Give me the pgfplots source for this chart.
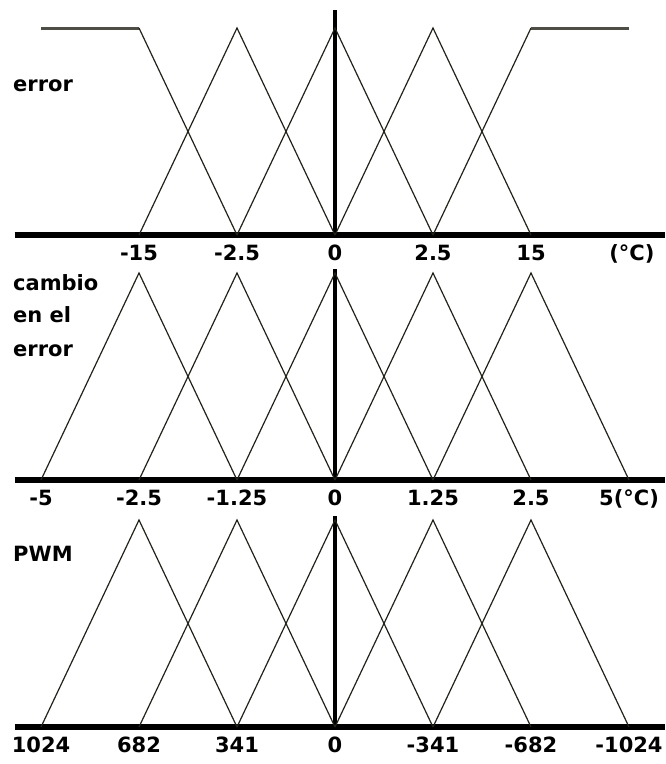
\documentclass[border=0pt]{standalone}
\usepackage{fontspec}
\setmainfont{DejaVu Sans}
\usepackage{pgfplots}
\pgfplotsset{compat=1.18}

\definecolor{mfline}{HTML}{22221A}
\definecolor{shoulder}{HTML}{4E4E46}

\newcommand{\lblfont}{\fontsize{21}{25}\selectfont\bfseries}

% membership-function panels: equally spaced linguistic terms at -3..3
\pgfplotsset{
  fuzzy/.style={
    scale only axis, x=98pt, y=207pt,
    xmin=-3.27, xmax=3.37, ymin=0,
    axis x line=bottom, axis y line=center,
    axis line style={-, black},
    x axis line style={line width=6pt},
    y axis line style={line width=4pt},
    hide obscured x ticks=false,
    ytick=\empty,
    major tick length=0pt,
    xticklabel style={font=\lblfont, anchor=base, inner sep=0pt, yshift=-25pt},
    clip=false,
  },
  tri/.style={color=mfline, line width=1.2pt, solid, mark=none},
  flat/.style={color=shoulder, line width=3pt, solid, mark=none},
}

\begin{document}
\begin{tikzpicture}
\path[use as bounding box] (0,0) rectangle (665pt,-764pt);

% ---------------- error ----------------
\begin{axis}[fuzzy, at={(14.54pt,-235pt)}, anchor=south west, ymax=1.087,
  xtick={-2,-1,0,1,2,3.03},
  xticklabels={-15,-2.5,0,2.5,15,(°C)}]
  \addplot[flat] coordinates {(-3,1) (-2,1)};
  \addplot[tri] coordinates {(-2,1) (-1,0)};
  \addplot[tri] coordinates {(-2,0) (-1,1) (0,0)};
  \addplot[tri] coordinates {(-1,0) (0,1) (1,0)};
  \addplot[tri] coordinates {(0,0) (1,1) (2,0)};
  \addplot[tri] coordinates {(1,0) (2,1)};
  \addplot[flat] coordinates {(2,1) (3,1)};
\end{axis}

% ------------- cambio en el error -------------
\begin{axis}[fuzzy, at={(14.54pt,-480pt)}, anchor=south west, ymax=1.02,
  xtick={-3,-2,-1,0,1,2,3},
  xticklabels={-5,-2.5,-1.25,0,1.25,2.5,5(°C)}]
  \addplot[tri] coordinates {(-3,0) (-2,1) (-1,0)};
  \addplot[tri] coordinates {(-2,0) (-1,1) (0,0)};
  \addplot[tri] coordinates {(-1,0) (0,1) (1,0)};
  \addplot[tri] coordinates {(0,0) (1,1) (2,0)};
  \addplot[tri] coordinates {(1,0) (2,1) (3,0)};
\end{axis}

% ---------------- PWM ----------------
\begin{axis}[fuzzy, at={(14.54pt,-727pt)}, anchor=south west, ymax=1.02,
  xtick={-3,-2,-1,0,1,2,3},
  xticklabels={1024,682,341,0,-341,-682,-1024}]
  \addplot[tri] coordinates {(-3,0) (-2,1) (-1,0)};
  \addplot[tri] coordinates {(-2,0) (-1,1) (0,0)};
  \addplot[tri] coordinates {(-1,0) (0,1) (1,0)};
  \addplot[tri] coordinates {(0,0) (1,1) (2,0)};
  \addplot[tri] coordinates {(1,0) (2,1) (3,0)};
\end{axis}

% variable names
\node[anchor=base west, inner sep=0pt, font=\lblfont] at (13pt,-91pt) {error};
\node[anchor=base west, inner sep=0pt, font=\lblfont] at (13pt,-290pt) {cambio};
\node[anchor=base west, inner sep=0pt, font=\lblfont] at (13pt,-322pt) {en el};
\node[anchor=base west, inner sep=0pt, font=\lblfont] at (13pt,-356pt) {error};
\node[anchor=base west, inner sep=0pt, font=\lblfont] at (13pt,-561pt) {PWM};
\end{tikzpicture}
\end{document}
